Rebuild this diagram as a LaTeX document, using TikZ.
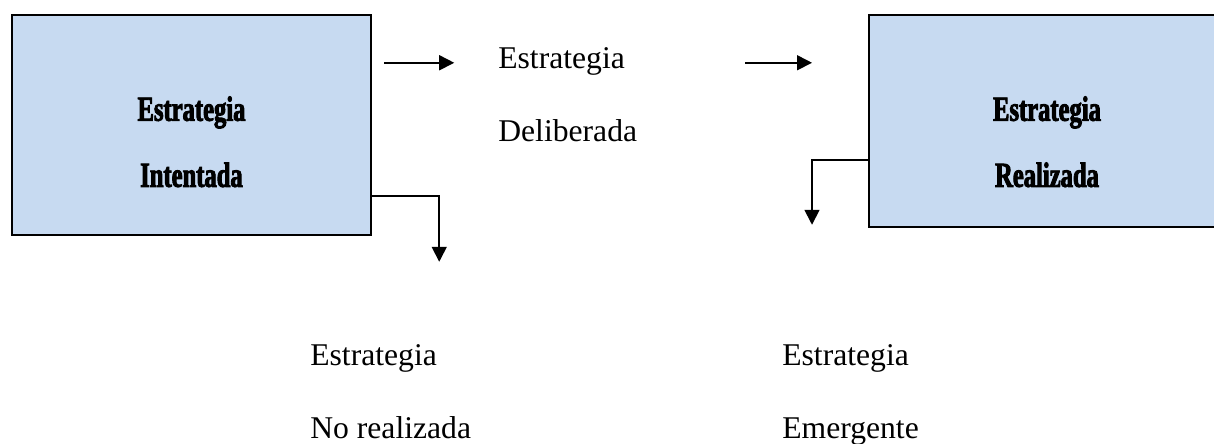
\documentclass[tikz,border=0pt]{standalone}
\usepackage{fontspec}
\setmainfont{Liberation Serif}
\newfontfamily\cajafont[FakeStretch=0.70,FakeBold=2.5]{Liberation Serif}
\usetikzlibrary{arrows.meta, positioning, calc}
\definecolor{azulcaja}{RGB}{199,218,241}

\begin{document}
\begin{tikzpicture}[
    caja/.style={draw, line width=1.4pt, fill=azulcaja, inner sep=0pt},
    textocaja/.style={align=center, font=\cajafont\bfseries\fontsize{20}{37.6}\selectfont},
    texto/.style={align=left, anchor=north west, inner sep=0pt, font=\fontsize{18}{41.5}\selectfont},
    flecha/.style={line width=0.95pt, -{Triangle[length=0.3cm, width=0.3cm]}}
]
\useasboundingbox (0,0) rectangle (24.28,-8.86);
\clip (0,0) rectangle (24.28,-8.86);

\node[caja, minimum width=7.18cm, minimum height=4.40cm] (intentada) at (3.83, -2.50) {};
            \node[textocaja] (txtintentada) at ($(intentada.north) + (0, -2.56)$) {Estrategia\\Intentada};

            \node[caja, anchor=west, minimum width=7.80cm, minimum height=4.24cm] (realizada) at (17.36, -2.42) {};
            \node[textocaja] (txtrealizada) at ($(realizada.north west) + (3.58, -2.56)$) {Estrategia\\Realizada};

            \node[texto] (deliberada) at (9.96, -0.94) {Estrategia\\Deliberada};
            \node[texto] (norealizada) at (6.20, -6.88) {Estrategia\\No realizada};
            \node[texto] (emergente) at (15.64, -6.88) {Estrategia\\Emergente};

            %% Deliberada
            \coordinate (a1) at ($(intentada.north east) + (0.24, -0.98)$);
            \coordinate (a2) at ($(intentada.north east) + (1.64, -0.98)$);
            \draw[flecha] (a1) -- (a2);

            \coordinate (b1) at ($(realizada.north west) + (-2.46, -0.98)$);
            \coordinate (b2) at ($(realizada.north west) + (-1.12, -0.98)$);
            \draw[flecha] (b1) -- (b2);

            %% No realizada
            \coordinate (c1) at ($(intentada.north east) + (0, -3.64)$);
            \coordinate (c2) at ($(intentada.north east) + (1.34, -4.96)$);
            \draw[flecha] (c1) -| (c2);

            %% Emergente
            \coordinate (d1) at ($(realizada.north west) + (0, -2.92)$);
            \coordinate (d2) at ($(realizada.north west) + (-1.12, -4.22)$);
            \draw[flecha] (d1) -| (d2);

      \end{tikzpicture}
\end{document}
